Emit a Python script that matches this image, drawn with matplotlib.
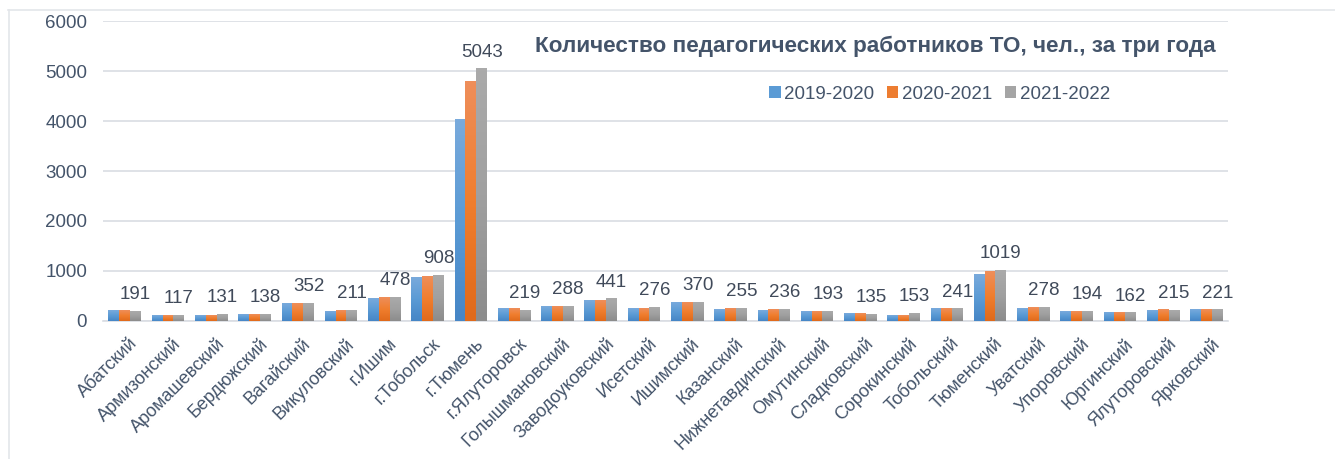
#!/usr/bin/env python3
"""Bar chart: teaching staff per municipality of Tyumen region, three school years."""

from __future__ import annotations

import matplotlib

matplotlib.use("Agg")

import matplotlib.pyplot as plt
import numpy as np
from matplotlib.colors import LinearSegmentedColormap
from matplotlib.lines import Line2D
from matplotlib.transforms import ScaledTranslation

# ---- Data ---------------------------------------------------------------

DISTRICTS = [
    "Абатский", "Армизонский", "Аромашевский", "Бердюжский", "Вагайский",
    "Викуловский", "г.Ишим", "г.Тобольск", "г.Тюмень", "г.Ялуторовск",
    "Голышмановский", "Заводоуковский", "Исетский", "Ишимский", "Казанский",
    "Нижнетавдинский", "Омутинский", "Сладковский", "Сорокинский", "Тобольский",
    "Тюменский", "Уватский", "Упоровский", "Юргинский", "Ялуторовский",
    "Ярковский",
]

YEARS = ["2019-2020", "2020-2021", "2021-2022"]

STAFF_2019 = [220, 115, 112, 135, 352, 195, 455, 880, 4027, 245,
              285, 415, 255, 370, 235, 210, 193, 150, 115, 241,
              940, 260, 194, 162, 215, 221]
STAFF_2020 = [220, 115, 112, 135, 352, 215, 475, 900, 4800, 245,
              285, 415, 255, 370, 255, 236, 193, 150, 115, 241,
              1000, 278, 194, 162, 240, 221]
STAFF_2021 = [191, 117, 131, 138, 352, 211, 478, 908, 5043, 219,
              288, 441, 276, 370, 255, 236, 193, 135, 153, 241,
              1019, 278, 194, 162, 215, 221]

Y_TICKS = [0, 1000, 2000, 3000, 4000, 5000, 6000]

TITLE = "Количество педагогических работников ТО, чел., за три года"

# ---- Style --------------------------------------------------------------

COLORS = ["#5B9BD5", "#ED7D31", "#A5A5A5"]
# excel-like vertical gradient: bottom -> middle -> top
GRADIENTS = [
    ["#4686C6", "#5B9BD5", "#79AADC"],
    ["#E06A1B", "#F07E2E", "#EE8E5A"],
    ["#8C8C8C", "#A0A0A0", "#AAAAAA"],
]
TEXT_COLOR = "#44546A"
GRID_COLOR = "#D9DDE3"
FONT = ["Liberation Sans", "DejaVu Sans"]
FS = 13.5


def _gradient_bars(ax, bars, stops) -> None:
    """Paint each bar with a vertical gradient (drawn over the flat bar)."""
    cmap = LinearSegmentedColormap.from_list("bar", stops)
    grad = np.linspace(0, 1, 64).reshape(-1, 1)
    for bar in bars:
        x0, w, h = bar.get_x(), bar.get_width(), bar.get_height()
        ax.imshow(grad, extent=[x0, x0 + w, 0, h], origin="lower", cmap=cmap,
                  aspect="auto", interpolation="bilinear", zorder=3.5)


def plot_staff() -> None:
    plt.rcParams["font.family"] = FONT

    fig = plt.figure(figsize=(13.35, 4.59), dpi=100)
    ax = fig.add_axes([0.0772, 0.3007, 0.8427, 0.6535])

    series = [STAFF_2019, STAFF_2020, STAFF_2021]
    x = np.arange(len(DISTRICTS))
    width = 0.25

    for i, (values, color, label) in enumerate(zip(series, COLORS, YEARS)):
        bars = ax.bar(x + (i - 1) * width, values, width=width, color=color,
                      label=label, zorder=3)
        _gradient_bars(ax, bars, GRADIENTS[i])

    # labels only for the last year, above the grey bar
    for xi, val in zip(x + width, STAFF_2021):
        ax.annotate(f"{val}", (xi, val), xytext=(0, 6), textcoords="offset points",
                    ha="center", va="bottom", fontsize=FS, color="#404A5A")

    ax.set_xlim(-0.5, len(DISTRICTS) - 0.5)
    ax.set_ylim(0, 6000)
    ax.set_yticks(Y_TICKS)
    ax.set_yticklabels([str(t) for t in Y_TICKS])
    ax.grid(axis="y", color=GRID_COLOR, linewidth=1.2, zorder=0)
    ax.set_axisbelow(True)

    ax.set_xticks(x)
    ax.set_xticklabels(DISTRICTS, rotation=45, ha="right", rotation_mode="anchor")
    ax.tick_params(axis="both", length=0, labelsize=FS, colors=TEXT_COLOR)
    ax.tick_params(axis="x", labelsize=13, pad=10)
    ax.tick_params(axis="y", pad=11.5)
    shift = ScaledTranslation(3 / 72, 0, fig.dpi_scale_trans)
    for lbl in ax.get_xticklabels():
        lbl.set_transform(lbl.get_transform() + shift)

    for side in ["top", "right", "left"]:
        ax.spines[side].set_visible(False)
    ax.spines["bottom"].set_color(GRID_COLOR)
    ax.spines["bottom"].set_linewidth(1.2)

    fig.text(0.656, 0.90, TITLE, ha="center", va="center", fontsize=16.2,
             fontweight="bold", color=TEXT_COLOR)

    fig.legend(loc="center", bbox_to_anchor=(0.704, 0.795), ncol=3, frameon=False,
               fontsize=FS, handlelength=0.6, handleheight=0.6, handletextpad=0.2,
               columnspacing=0.68, labelcolor=TEXT_COLOR)

    # chart frame (top and left edges visible)
    fig.add_artist(Line2D([0.006, 1.0], [0.978, 0.978], transform=fig.transFigure,
                          color="#E3E6EA", linewidth=1.2))
    fig.add_artist(Line2D([0.007, 0.007], [0.0, 0.978], transform=fig.transFigure,
                          color="#E3E6EA", linewidth=1.2))

    fig.savefig("out.png", dpi=100)


if __name__ == "__main__":
    plot_staff()
